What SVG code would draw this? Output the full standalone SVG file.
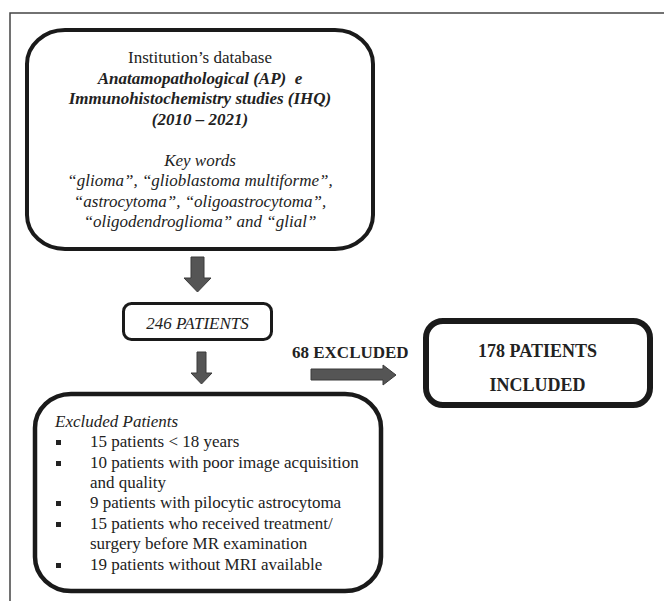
<svg xmlns="http://www.w3.org/2000/svg" width="664" height="601" viewBox="0 0 664 601">
<style>
.box{fill:#fff;stroke:#1a1a1a}
text{font-family:'Liberation Serif','Times New Roman',Times,'DejaVu Serif',serif;font-size:17px;fill:#222}
.c{text-anchor:middle}
.i{font-style:italic}
.b{font-weight:bold}
.arr{fill:#555;stroke:#3a3a3a;stroke-width:1}
.bul{fill:#222}
</style>
<rect width="664" height="601" fill="#fff"/>
<path d="M10,601 V13 H664" fill="none" stroke="#444" stroke-width="1.5"/>

<g id="connectors">
  <polygon class="arr" points="191,257 204,257 204,278 211,278 197.5,292 184,278 191,278"/>
  <polygon class="arr" points="197,352 206,352 206,373 212,373 201.5,384 191,373 197,373"/>
  <polygon class="arr" points="311,369 383,369 383,365 396,375 383,385 383,380 311,380"/>
  <text class="b" x="292" y="358" font-family="Liberation Serif, serif">68 EXCLUDED</text>
</g>

<g id="database">
  <rect class="box" x="27" y="30" width="346" height="219" rx="38" ry="34" stroke-width="4"/>
  <text class="c" x="200" y="63">Institution’s database</text>
  <text class="c i b" x="200" y="83.5" xml:space="preserve">Anatamopathological (AP)  e</text>
  <text class="c i b" x="200" y="104">Immunohistochemistry studies (IHQ)</text>
  <text class="c i b" x="200" y="124.5">(2010 – 2021)</text>
  <text class="c i" x="200" y="165.5">Key words</text>
  <text class="c i" x="200" y="186">“glioma”, “glioblastoma multiforme”,</text>
  <text class="c i" x="200" y="206.5">“astrocytoma”, “oligoastrocytoma”,</text>
  <text class="c i" x="200" y="227">“oligodendroglioma” and “glial”</text>
</g>

<g id="patients246">
  <rect class="box" x="123.5" y="303.5" width="148" height="36" rx="8" stroke-width="3"/>
  <text class="c i" x="197.5" y="329">246 PATIENTS</text>
</g>

<g id="included">
  <rect class="box" x="426" y="321" width="224" height="84" rx="17" stroke-width="6"/>
  <text class="c b" x="537.5" y="357" style="font-size:18px">178 PATIENTS</text>
  <text class="c b" x="537.5" y="391" style="font-size:18px">INCLUDED</text>
</g>

<g id="excluded">
  <rect class="box" x="35" y="394" width="346" height="197" rx="36" ry="34" stroke-width="4.5"/>
  <text class="i" x="55" y="427">Excluded Patients</text>
  <rect class="bul" x="56" y="440" width="5" height="5"/>
  <text x="90" y="447">15 patients &lt; 18 years</text>
  <rect class="bul" x="56" y="461" width="5" height="5"/>
  <text x="90" y="468">10 patients with poor image acquisition</text>
  <text x="90" y="488">and quality</text>
  <rect class="bul" x="56" y="501" width="5" height="5"/>
  <text x="90" y="508">9 patients with pilocytic astrocytoma</text>
  <rect class="bul" x="56" y="522" width="5" height="5"/>
  <text x="90" y="529">15 patients who received treatment/</text>
  <text x="90" y="549">surgery before MR examination</text>
  <rect class="bul" x="56" y="563" width="5" height="5"/>
  <text x="90" y="570">19 patients without MRI available</text>
</g>
</svg>
